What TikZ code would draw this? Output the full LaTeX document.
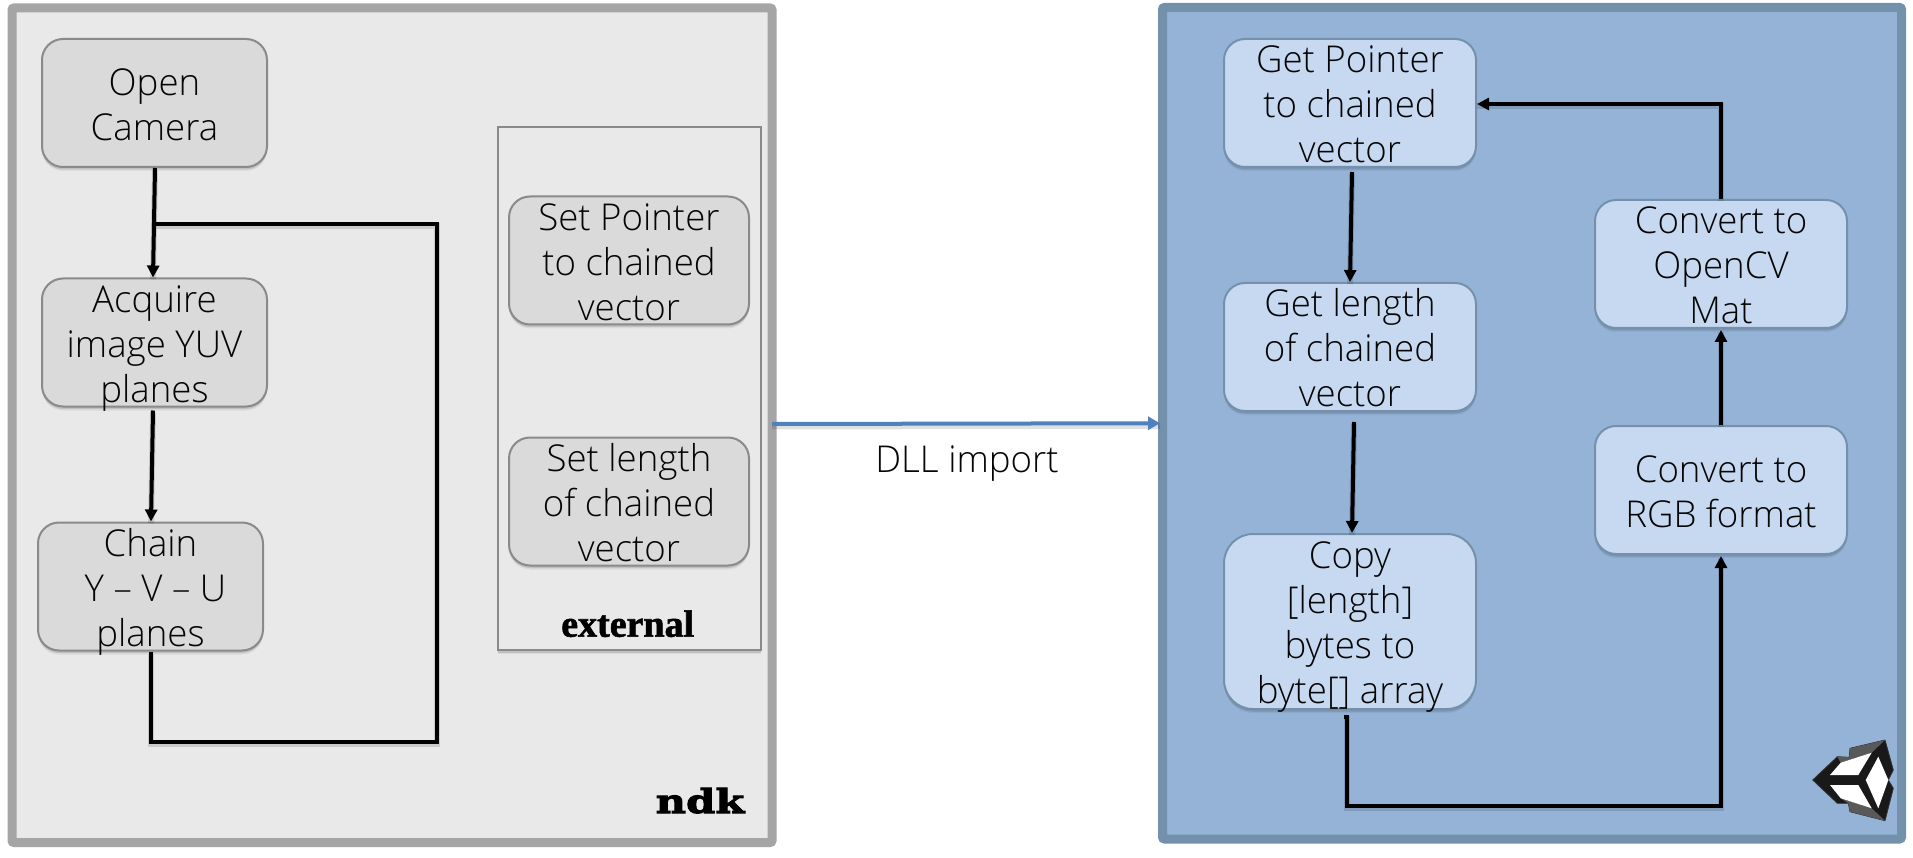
\documentclass[tikz,border=0pt]{standalone}
\usepackage{fontspec}
\usetikzlibrary{arrows.meta,shadows}
\setmainfont{Open Sans Light}[FakeStretch=0.99]
\newfontfamily\extfont{Liberation Serif Bold}[FakeBold=1.5]
\newfontfamily\ndkfont{DejaVu Serif Bold}[FakeBold=3,FakeStretch=1.27]
\definecolor{lpanel}{HTML}{E9E9E9}
\definecolor{lborder}{HTML}{A5A5A5}
\definecolor{lbox}{HTML}{DADADA}
\definecolor{lstroke}{HTML}{8A8A8A}
\definecolor{rpanel}{HTML}{95B3D7}
\definecolor{rborder}{HTML}{7491AC}
\definecolor{rbox}{HTML}{C6D9F1}
\definecolor{blueline}{HTML}{4F81BD}
\definecolor{ink}{HTML}{050505}
\newcommand{\ftext}[1]{\raisebox{-12pt}[0pt][0pt]{\begin{tabular}[c]{@{}c@{}}#1\end{tabular}}}
\tikzset{
  softshadow/.style={
    drop shadow={shadow xshift=0pt,shadow yshift=-4pt,fill=black,opacity=.06},
    drop shadow={shadow xshift=0pt,shadow yshift=-2.5pt,fill=black,opacity=.12}},
  panelbox/.style={rectangle,inner sep=0pt,line width=9pt,rounded corners=2pt,softshadow},
  flowbox/.style={rectangle,inner sep=0pt,line width=2pt,text=ink,
    font=\fontsize{37}{45}\selectfont,softshadow,
    minimum width=225pt,minimum height=128pt,rounded corners=21pt},
  greybox/.style={flowbox,fill=lbox,draw=lstroke},
  bluebox/.style={flowbox,fill=rbox,draw=rborder,minimum width=252pt},
  wire/.style={draw=black,line width=4pt,line join=miter,
    preaction={draw=black,draw opacity=.13,line width=6pt,transform canvas={yshift=-2pt},-}},
  arrowwire/.style={wire,-{Triangle[length=12pt,width=12pt]}},
  plaintext/.style={inner sep=0pt,anchor=base,text=ink}
}
\begin{document}
\begin{tikzpicture}[x=1pt,y=-1pt]
\useasboundingbox (0,0) rectangle (1913,858);
% panels
\node[panelbox,fill=lpanel,draw=lborder,minimum width=760pt,minimum height=834.5pt] (ndkpanel) at (392,425.25) {};
\node[panelbox,fill=rpanel,draw=rborder,minimum width=739pt,minimum height=831.5pt] (unitypanel) at (1532,423.25) {};
% external group
\node[rectangle,inner sep=0pt,draw=lstroke,line width=2pt,fill=lpanel,minimum width=263pt,minimum height=523pt,softshadow] (extgroup) at (629,388.5) {};
% left boxes
\node[greybox] (open) at (154.5,103) {\ftext{Open\\Camera}};
\node[greybox] (acquire) at (154.5,342.5) {\ftext{Acquire\\image YUV\\planes}};
\node[greybox] (chain) at (150.5,586.5) {\ftext{Chain\\\hspace*{10pt}Y -- V -- U\\planes}};
\node[greybox,minimum width=240pt] (setptr) at (629,260.5) {\ftext{Set Pointer\\to chained\\vector}};
\node[greybox,minimum width=240pt] (setlen) at (629,501.5) {\ftext{Set length\\of chained\\vector}};
% right boxes
\node[bluebox] (getptr) at (1350,103) {\ftext{Get Pointer\\to chained\\vector}};
\node[bluebox] (getlen) at (1350,347) {\ftext{Get length\\of chained\\vector}};
\node[bluebox,minimum height=175pt,rounded corners=29pt] (copy) at (1350,621.5) {\ftext{Copy\\{[length]}\\bytes to\\byte[] array}};
\node[bluebox] (opencv) at (1721,264) {\ftext{Convert to\\OpenCV\\Mat}};
\node[bluebox] (rgb) at (1721,490) {\ftext{Convert to\\RGB format}};
% labels
\node[plaintext,font=\fontsize{37}{45}\selectfont] (dll) at (967,472) {DLL import};
\node[plaintext,font=\extfont\fontsize{38}{45}\selectfont,text=black] (extlabel) at (627.7,636.7) {external};
\node[plaintext,font=\ndkfont\fontsize{33}{40}\selectfont,text=black] (ndklabel) at (700,813) {ndk};
% connector helpers
\coordinate (junction) at (154,224.5);
\coordinate (loopTR) at (437,224.5);
\coordinate (loopBR) at (437,742);
\coordinate (stubL) at (1344,717);
\coordinate (stubR) at (1347,717);
\coordinate (busL) at (1347,805.5);
\coordinate (corner) at (1721,104);
% left connectors
\draw[arrowwire] ([xshift=.5pt]open.south) -- ([xshift=-1.5pt]acquire.north);
\draw[arrowwire] ([xshift=-1.5pt,yshift=-3pt]acquire.south) -- ([xshift=.5pt]chain.north);
\draw[wire] ([xshift=.5pt]chain.south) -- ([xshift=.5pt]chain.south |- loopBR) -- (loopBR) -- (loopTR) -- (junction);
% right connectors
\draw[arrowwire] ([xshift=2pt,yshift=-4pt]getptr.south) -- (getlen.north);
\draw[arrowwire] ([xshift=4pt,yshift=-10pt]getlen.south) -- ([xshift=2pt]copy.north);
\draw[wire,-{Triangle[length=12pt,width=12pt]}] (stubL) -- (stubR) -- (busL) -- (rgb.south |- busL) -- ([yshift=-1pt]rgb.south);
\draw[arrowwire] (rgb.north) -- ([yshift=-1pt]opencv.south);
\draw[arrowwire] (opencv.north) -- (corner) -- (getptr.east |- corner);
% DLL arrow
\draw[line width=4pt,draw=blueline,-{Triangle[length=12pt,width=13pt]},
  preaction={draw=black,draw opacity=.12,line width=6pt,transform canvas={yshift=-2.5pt},-}]
  ([xshift=-4.5pt,yshift=1.25pt]ndkpanel.east) -- ([xshift=2pt]unitypanel.west);
% Unity logo
\fill[black!90,draw=black!80,line width=.8pt,line join=round] (1812.7,780) -- (1837.3,756.7) -- (1849.3,757.3) -- (1850,748.3) -- (1885,740) -- (1893.3,770) -- (1888.3,780) -- (1893.3,788.3) -- (1885,820.7) -- (1850,811.7) -- (1848.3,803.3) -- (1837.3,803.3) -- cycle;
\fill[black!65] (1837.3,756.7) -- (1849.3,757.3) -- (1850,748.3) -- (1885,740) -- (1871.7,752.7) -- (1840.7,762.7) -- cycle;
\fill[black!65] (1885,820.7) -- (1850,811.7) -- (1848.3,803.3) -- (1840.7,798.3) -- (1871.7,808.3) -- cycle;
\fill[white] (1830,775) -- (1840.7,762.7) -- (1871.7,752.7) -- (1858.3,775) -- cycle;
\fill[white] (1878.3,756.7) -- (1888.3,780) -- (1878.3,808.3) -- (1865.7,780) -- cycle;
\fill[white] (1830,785) -- (1858.3,785) -- (1871.7,808.3) -- (1840.7,798.3) -- cycle;
\end{tikzpicture}
\end{document}
